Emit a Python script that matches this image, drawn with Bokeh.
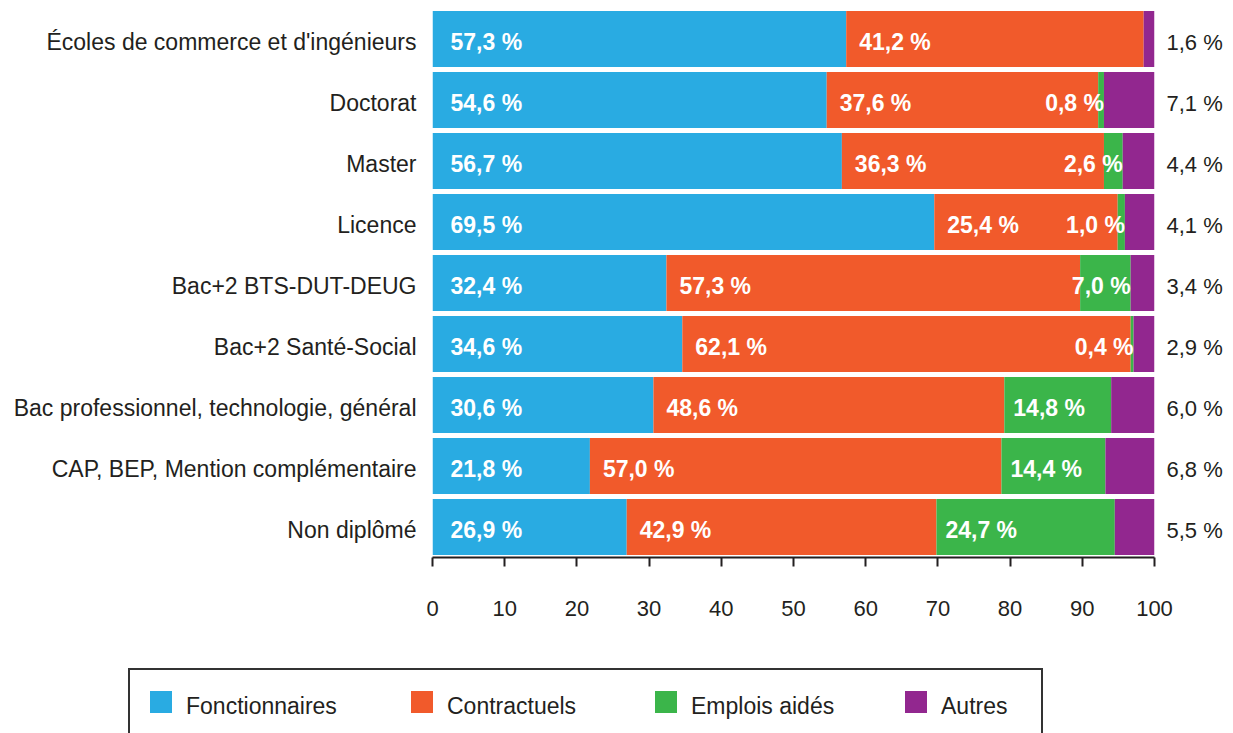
import numpy as np
from bokeh.plotting import figure
from bokeh.layouts import column
from bokeh.models import (ColumnDataSource, FixedTicker, Range1d, LinearAxis, Div)
from bokeh.core.properties import value
from bokeh.embed import file_html
from bokeh.resources import INLINE

categories = ["Écoles de commerce et d'ingénieurs", "Doctorat", "Master", "Licence",
              "Bac+2 BTS-DUT-DEUG", "Bac+2 Santé-Social",
              "Bac professionnel, technologie, général",
              "CAP, BEP, Mention complémentaire", "Non diplômé"]
fonctionnaires = [57.3, 54.6, 56.7, 69.5, 32.4, 34.6, 30.6, 21.8, 26.9]
contractuels = [41.2, 37.6, 36.3, 25.4, 57.3, 62.1, 48.6, 57.0, 42.9]
emplois_aides = [0.0, 0.8, 2.6, 1.0, 7.0, 0.4, 14.8, 14.4, 24.7]
autres = [1.6, 7.1, 4.4, 4.1, 3.4, 2.9, 6.0, 6.8, 5.5]
series_names = ["Fonctionnaires", "Contractuels", "Emplois aidés", "Autres"]
x_ticks = [0, 10, 20, 30, 40, 50, 60, 70, 80, 90, 100]

colors = ["#29ABE2", "#F15A2B", "#3BB54A", "#92278F"]
FONT = "Liberation Sans"
TXT = "#231F20"

n = len(categories)
ypos = np.arange(n)
vals = np.array([fonctionnaires, contractuels, emplois_aides, autres])
cum = np.cumsum(vals, axis=0)
lefts = np.vstack([np.zeros(n), cum[:-1]])

def fmt(v):
    return ("%.1f" % v).replace(".", ",") + " %"

W = 1225
MAIN_H = 660
ROW_PX = 61
p = figure(width=W, height=MAIN_H, output_backend="svg", toolbar_location=None,
           x_range=Range1d(0, 100), y_range=Range1d(n - 0.5, -0.5),
           min_border_left=432, min_border_right=70, min_border_top=8,
           min_border_bottom=MAIN_H - 8 - n * ROW_PX)
p.outline_line_color = None
p.xgrid.visible = False
p.ygrid.visible = False

for k in range(4):
    src = ColumnDataSource(dict(y=ypos, left=lefts[k], right=cum[k]))
    p.hbar(y="y", left="left", right="right", height=56 / ROW_PX, source=src,
           fill_color=colors[k], line_color=None)

TEXT_DY = 3  # px: labels sit slightly below bar centre in the reference

def add_labels(xs, ys, texts, align, xoff):
    src = ColumnDataSource(dict(x=xs, y=ys, t=texts))
    p.text(x="x", y="y", text="t", source=src, text_align=align, x_offset=xoff,
           y_offset=TEXT_DY, text_baseline="middle", text_color="white",
           text_font=value(FONT), text_font_size="23px", text_font_style="bold")

add_labels(lefts[0], ypos, [fmt(v) for v in fonctionnaires], "left", 18)
add_labels(lefts[1], ypos, [fmt(v) for v in contractuels], "left", 13)
for i in range(n):
    v = emplois_aides[i]
    if v <= 0:
        continue
    if v < 10:
        add_labels([cum[2][i]], [ypos[i]], [fmt(v)], "right", 0)
    else:
        add_labels([lefts[2][i]], [ypos[i]], [fmt(v)], "left", 9)

# x axis
xa = p.xaxis[0]
xa.ticker = FixedTicker(ticks=x_ticks)
xa.minor_tick_line_color = None
xa.major_tick_in = 0
xa.major_tick_out = 9
xa.major_tick_line_width = 2
xa.major_tick_line_color = TXT
xa.axis_line_width = 2
xa.axis_line_color = TXT
xa.major_label_standoff = 34
xa.major_label_text_font = FONT
xa.major_label_text_font_size = "22px"
xa.major_label_text_color = TXT

# label tick positions nudged down by TEXT_DY px (ticks themselves are hidden)
label_ticks = [float(i) + TEXT_DY / ROW_PX for i in ypos]

# left axis: categories
ya = p.yaxis[0]
ya.ticker = FixedTicker(ticks=label_ticks)
ya.major_label_overrides = {t: c for t, c in zip(label_ticks, categories)}
ya.axis_line_color = None
ya.major_tick_line_color = None
ya.minor_tick_line_color = None
ya.major_tick_in = 0
ya.major_tick_out = 0
ya.major_label_standoff = 16
ya.major_label_text_font = FONT
ya.major_label_text_font_size = "23px"
ya.major_label_text_color = TXT

# right axis: "Autres" values
ra = LinearAxis(ticker=FixedTicker(ticks=label_ticks),
                major_label_overrides={t: fmt(v) for t, v in zip(label_ticks, autres)})
ra.axis_line_color = None
ra.major_tick_line_color = None
ra.minor_tick_line_color = None
ra.major_tick_in = 0
ra.major_tick_out = 0
ra.major_label_standoff = 12
ra.major_label_text_font = FONT
ra.major_label_text_font_size = "22px"
ra.major_label_text_color = TXT
p.add_layout(ra, "right")

# legend (HTML)
LH = 733 - MAIN_H
item_x = [150, 411, 655, 905]
parts = []
for k in range(4):
    parts.append(
        f'<div style="position:absolute;left:{item_x[k]}px;top:{691 - MAIN_H}px;'
        f'width:22px;height:22px;background:{colors[k]};"></div>'
        f'<div style="position:absolute;left:{item_x[k] + 36}px;top:{690 - MAIN_H}px;'
        f'font-family:\'{FONT}\';font-size:23px;color:{TXT};white-space:nowrap;">'
        f'{series_names[k]}</div>')
html = (f'<div style="position:relative;width:{W}px;height:{LH}px;overflow:hidden;">'
        f'<div style="position:absolute;left:128px;top:{668 - MAIN_H}px;width:915px;height:68px;'
        f'border:2px solid #333333;box-sizing:border-box;background:white;"></div>'
        + "".join(parts) + '</div>')
legend_div = Div(text=html, width=W, height=LH, margin=0)

layout = column(p, legend_div, spacing=0)
open("out.html", "w").write(file_html(layout, INLINE))
